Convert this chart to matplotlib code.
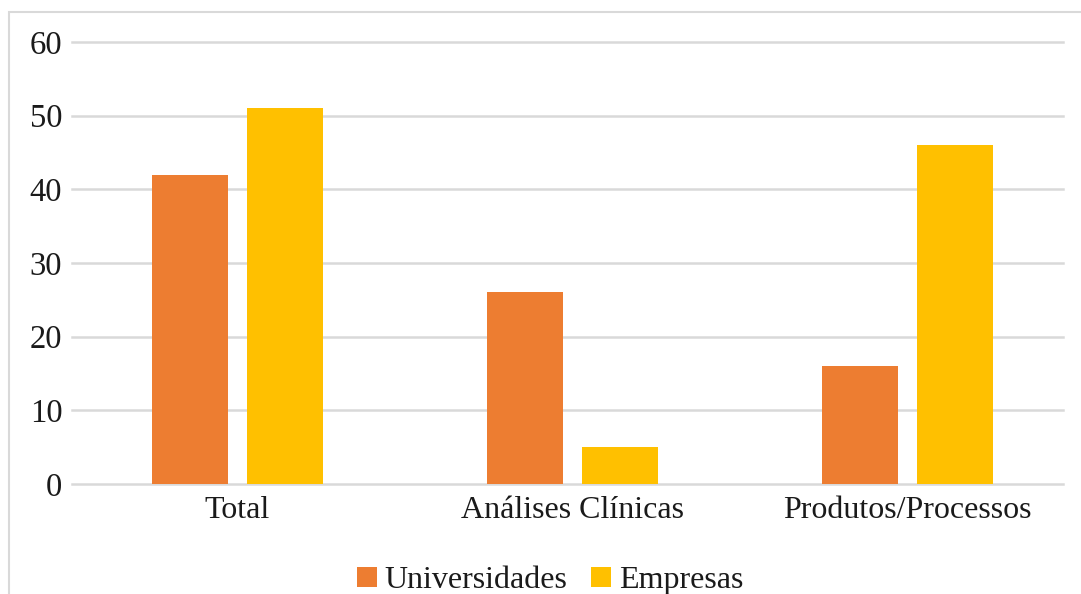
import matplotlib.pyplot as plt
import matplotlib.patches as mpatches
import numpy as np

categorias = ["Total", "Análises Clínicas", "Produtos/Processos"]
universidades = [42, 26, 16]
empresas = [51, 5, 46]
yticks = [0, 10, 20, 30, 40, 50, 60]

plt.rcParams['font.family'] = ['Liberation Serif', 'DejaVu Serif']

fig = plt.figure(figsize=(10.81, 5.94), dpi=100)
ax = fig.add_axes([72 / 1081, 110 / 594, 991 / 1081, 442 / 594])

# moldura cinza clara do gráfico
fig.patches.append(mpatches.Rectangle((9 / 1081, -0.02), 1.1, (582 / 594) + 0.02,
                                      transform=fig.transFigure, fill=False,
                                      edgecolor='#D9D9D9', linewidth=1.5))

x = np.arange(len(categorias))
w = 0.227
ax.bar(x - 0.143, universidades, w, color='#ED7D31', label='Universidades', zorder=3)
ax.bar(x + 0.143, empresas, w, color='#FFC000', label='Empresas', zorder=3)

ax.set_xlim(-0.494, 2.464)
ax.set_ylim(0, 60)
ax.set_yticks(yticks)
ax.yaxis.grid(True, color='#D9D9D9', linewidth=1.8, zorder=0)
# linhas do 0 e do 60 inteiras, sem corte na borda dos eixos
for gl in ax.yaxis.get_gridlines():
    gl.set_clip_on(False)
ax.set_xticks(x)
ax.set_xticklabels(categorias)
ax.tick_params(axis='y', length=0, labelsize=23.5, colors='#1a1a1a', pad=7)
ax.tick_params(axis='x', length=0, labelsize=23, colors='#1a1a1a', pad=9)
for s in ax.spines.values():
    s.set_visible(False)

fig.legend(loc='lower center', bbox_to_anchor=(0.509, -0.05), ncol=2, frameon=False,
           fontsize=23, handlelength=0.6, handleheight=0.6, handletextpad=0.25,
           columnspacing=0.75, labelcolor='#1a1a1a')

fig.savefig('out.png', dpi=100)
